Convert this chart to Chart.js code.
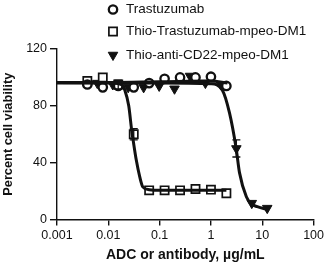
<!DOCTYPE html>
<html>
<head>
<meta charset="utf-8">
<script src="https://cdn.jsdelivr.net/npm/chart.js@4"></script>
<style>
  html, body { margin: 0; padding: 0; background: #fff; }
  #wrap { width: 327px; height: 267px; }
</style>
</head>
<body>
<div id="wrap"><canvas id="viability"></canvas></div>
<script>
// measured points, µg/mL
const concTras = [0.0039, 0.0078, 0.0156, 0.0313, 0.0625, 0.125, 0.25, 0.5, 1, 2];
const trastuzumab = [95, 93, 94, 93, 96, 99, 100, 100, 100.5, 94];
const thioTras = [97.5, 100, 95, 60, 20.5, 20.5, 20.5, 21.5, 21, 18.5];
const thioTrasErr = [0, 0, 3, 4, 0, 0, 0, 0, 0, 0];

const concCd22 = [0.0061, 0.0122, 0.0244, 0.0488, 0.098, 0.195, 0.39, 0.78, 1.56, 3.13, 6.25, 12.5];
const thioCd22 = [96, 95, 93, 93, 94, 92, 101, 96, 95, 50, 11.5, 8];
const thioCd22Err = [0, 0, 0, 0, 0, 0, 0, 0, 0, 6, 0, 0];

// fitted curves
const fitTrasX = [0.001, 0.01, 0.1, 1, 2.1];
const fitTrasY = [96.5, 96.5, 97, 97.5, 96];
const fitThioTrasX = [0.001, 0.01, 0.018, 0.021, 0.025, 0.0285, 0.031, 0.035, 0.041, 0.047, 0.063, 0.1, 2];
const fitThioTrasY = [96.5, 96.3, 95, 91, 80, 63, 54, 42, 30, 23, 21, 20.5, 20.5];
const fitCd22X = [0.001, 0.1, 1, 1.67, 2.3, 3.1, 3.6, 4.9, 6.1, 8, 13];
const fitCd22Y = [96, 96, 95.5, 91, 75, 50, 33, 16, 11, 9, 7];

const xTicks = [0.001, 0.01, 0.1, 1, 10, 100];
const xTickLabels = ['0.001', '0.01', '0.1', '1', '10', '100'];
const yTicks = [0, 40, 80, 120];

const pts = (xs, ys) => xs.map((x, i) => ({ x, y: ys[i] }));

const ink = '#111';

function markerSet(label, xs, ys, style, extra) {
  return Object.assign({
    type: 'scatter',
    label,
    data: pts(xs, ys),
    showLine: false,
    pointStyle: style,
    borderColor: ink,
    backgroundColor: '#fff',
    order: 2
  }, extra);
}

function curveSet(xs, ys) {
  return {
    type: 'line',
    label: '',
    data: pts(xs, ys),
    borderColor: ink,
    borderWidth: 3,
    pointRadius: 0,
    cubicInterpolationMode: 'monotone',
    fill: false,
    order: 1
  };
}

const errorBars = {
  id: 'errorBars',
  afterDatasetsDraw(chart) {
    const { ctx, scales: { x, y } } = chart;
    ctx.save();
    ctx.strokeStyle = ink;
    ctx.lineWidth = 1.3;
    chart.data.datasets.forEach(ds => {
      if (!ds.errors) return;
      ds.data.forEach((p, i) => {
        const e = ds.errors[i];
        if (!e) return;
        const px = x.getPixelForValue(p.x);
        const top = y.getPixelForValue(p.y + e);
        const bot = y.getPixelForValue(p.y - e);
        ctx.beginPath();
        ctx.moveTo(px, top); ctx.lineTo(px, bot);
        ctx.moveTo(px - 4, top); ctx.lineTo(px + 4, top);
        ctx.moveTo(px - 4, bot); ctx.lineTo(px + 4, bot);
        ctx.stroke();
      });
    });
    ctx.restore();
  }
};

// stacked legend, one entry per row
const stackLegend = {
  id: 'stackLegend',
  afterDraw(chart, args, opts) {
    const { ctx } = chart;
    ctx.save();
    ctx.font = '13.5px "Liberation Sans", Arial, sans-serif';
    ctx.textBaseline = 'middle';
    chart.data.datasets.filter(ds => ds.type === 'scatter').forEach((ds, i) => {
      const yy = opts.rows[i];
      ctx.fillStyle = ds.backgroundColor;
      ctx.strokeStyle = ds.borderColor;
      ctx.lineWidth = ds.pointBorderWidth;
      Chart.helpers.drawPoint(ctx, {
        pointStyle: ds.pointStyle,
        rotation: ds.pointRotation || 0,
        radius: ds.pointRadius,
        borderWidth: ds.pointBorderWidth
      }, opts.markerX, yy);
      ctx.fillStyle = ink;
      ctx.fillText(ds.label, opts.textX, yy);
    });
    ctx.restore();
  }
};

new Chart(document.getElementById('viability'), {
  data: {
    datasets: [
      markerSet('Trastuzumab', concTras, trastuzumab, 'circle', { pointRadius: 4.2, pointBorderWidth: 2.3 }),
      markerSet('Thio-Trastuzumab-mpeo-DM1', concTras, thioTras, 'rect', { pointRadius: 5.8, pointBorderWidth: 1.7, errors: thioTrasErr }),
      markerSet('Thio-anti-CD22-mpeo-DM1', concCd22, thioCd22, 'triangle', { pointRadius: 5.5, pointBorderWidth: 1, pointRotation: 180, backgroundColor: ink, errors: thioCd22Err }),
      curveSet(fitTrasX, fitTrasY),
      curveSet(fitThioTrasX, fitThioTrasY),
      curveSet(fitCd22X, fitCd22Y)
    ]
  },
  options: {
    responsive: true,
    maintainAspectRatio: false,
    animation: false,
    events: [],
    layout: { padding: { top: 49, right: 13, left: 0, bottom: 0 } },
    scales: {
      x: {
        type: 'logarithmic',
        min: 0.001,
        max: 100,
        afterBuildTicks: s => { s.ticks = xTicks.map(v => ({ value: v })); },
        afterFit: s => { s.height = 47.5; },
        ticks: {
          color: ink,
          padding: 3,
          maxRotation: 0,
          autoSkip: false,
          font: { family: '"Liberation Sans", Arial', size: 12.5 },
          callback: v => xTickLabels[xTicks.indexOf(v)] ?? ''
        },
        grid: { drawOnChartArea: false, drawTicks: true, tickLength: 6, color: ink, lineWidth: 1.4 },
        border: { color: ink, width: 1.4 },
        title: {
          display: true,
          text: 'ADC or antibody, µg/mL',
          color: ink,
          padding: { top: 0, bottom: 3 },
          font: { family: '"Liberation Sans", Arial', size: 14, weight: 'bold' }
        }
      },
      y: {
        min: 0,
        max: 120,
        afterBuildTicks: s => { s.ticks = yTicks.map(v => ({ value: v })); },
        afterFit: s => { s.width = 57; },
        ticks: {
          color: ink,
          padding: 3,
          font: { family: '"Liberation Sans", Arial', size: 12.5 }
        },
        grid: { drawOnChartArea: false, drawTicks: true, tickLength: 7, color: ink, lineWidth: 1.4 },
        border: { color: ink, width: 1.4 },
        title: {
          display: true,
          text: 'Percent cell viability',
          color: ink,
          padding: { top: 1, bottom: 0 },
          font: { family: '"Liberation Sans", Arial', size: 12.8, weight: 'bold' }
        }
      }
    },
    plugins: {
      legend: { display: false },
      tooltip: { enabled: false },
      stackLegend: { markerX: 113, textX: 126, rows: [9.5, 31.5, 55] }
    }
  },
  plugins: [errorBars, stackLegend]
});
</script>
</body>
</html>
